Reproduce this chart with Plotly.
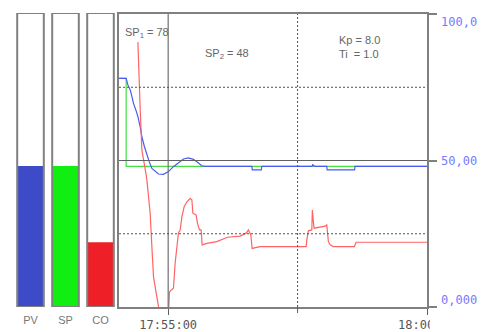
import plotly.graph_objects as go

# ---- data ----
# time in seconds relative to 17:55:00
sp_t = [-57, -48.7, -48.7, 300]
sp_v = [78, 78, 48, 48]

pv_t = [-57, -48.7, -46.7, -44, -42, -40.2, -37.4, -35.1, -32.4, -30.5, -27.5, -24.7, -22,
        -18.9, -15.1, -11.2, -5.4, 0.3, 6.1, 11.9, 17.7, 23.5, 29.3, 33.2, 39, 42.9,
        97, 97.5, 108, 108.5, 166.8, 167.5, 170.3, 183.8, 184.3, 216, 216.6, 300]
pv_v = [78, 78, 75.8, 74.1, 71.8, 69.5, 67.2, 65.0, 61.5, 58.1, 54.7, 51.9, 49.6,
        47.3, 46.2, 45.4, 45.3, 46.2, 47.9, 49.2, 50.5, 50.9, 50.4, 49.6, 48.2, 48,
        48, 46.8, 46.8, 48, 48, 48.6, 48, 48, 46.8, 46.8, 48, 48]

co_t = [-35.1, -34.2, -32.4, -30.5, -27.5, -25.5, -24.7, -22.8, -20.9, -18.9, -17.0, -13.9,
        -11.2, -8, 0.6, 1.5, 6.1, 8.1, 10.1, 11.9, 13.9, 15.9, 18.5, 21.7, 25.5, 27.5,
        28.6, 32.4, 33.9, 36.3, 38.2, 39.4, 44.8, 56.4, 68.7, 83.4, 90.4, 93.0, 95.8,
        97.3, 106.6, 159.9, 160.7, 162.5, 166.5, 167.1, 168.3, 169.1, 181.9, 183.8,
        185.7, 187.7, 191.5, 215.8, 217.8, 300]
co_v = [90.4, 79.9, 67.2, 53.6, 49.1, 45.1, 43.3, 38.2, 32.1, 20.6, 10.3, 4.8,
        0.1, -3, -1, 5.2, 6.4, 15.0, 20.6, 25.3, 26.3, 30.8, 34.2, 35.9, 37.1, 36.5,
        32.0, 31.4, 28.6, 26.3, 26.3, 21.2, 21.7, 22.3, 23.8, 24.2, 25.2, 26.3, 24.6,
        20.0, 20.6, 20.6, 22.9, 26.0, 26.3, 33.1, 29.1, 26.9, 27.6, 28.0,
        22.3, 21.2, 20.6, 20.6, 22.1, 22.1]

bar_names = ["PV", "SP", "CO"]
bar_values = [48, 48, 22]
bar_colors = ["#3d4bc9", "#11ee11", "#ee1f26"]

x_tickvals = [0, 300]
x_ticktext = ["17:55:00", "18:00:00"]
mid_tick = 150
y_labels = ["100,0", "50,00", "0,000"]

W, H = 484, 332
GRAY = "#808080"

fig = go.Figure()

# main chart traces
fig.add_trace(go.Scatter(x=sp_t, y=sp_v, mode="lines", line=dict(color="#44e044", width=1.2),
                         xaxis="x", yaxis="y", showlegend=False))
fig.add_trace(go.Scatter(x=pv_t, y=pv_v, mode="lines", line=dict(color="#4a5af0", width=1.2),
                         xaxis="x", yaxis="y", showlegend=False))
fig.add_trace(go.Scatter(x=co_t, y=co_v, mode="lines", line=dict(color="#ff6464", width=1.2),
                         xaxis="x", yaxis="y", showlegend=False))

# bar gauges
fig.add_trace(go.Bar(x=bar_names, y=bar_values, marker=dict(color=bar_colors, line=dict(width=0)),
                     width=0.76, xaxis="x2", yaxis="y2", showlegend=False))
fig.add_trace(go.Bar(x=bar_names, y=[100, 100, 100],
                     marker=dict(color="rgba(0,0,0,0)", line=dict(color=GRAY, width=2)),
                     width=0.76, xaxis="x2", yaxis="y2", showlegend=False))

y_dom = [1 - 307 / H, 1 - 14 / H]
fig.update_layout(
    width=W, height=H, autosize=False,
    margin=dict(l=0, r=0, t=0, b=0, pad=0, autoexpand=False),
    paper_bgcolor="white", plot_bgcolor="white", barmode="overlay",
    xaxis=dict(domain=[119 / W, 427 / W], range=[-57, 300], showgrid=False, zeroline=False,
               showline=True, mirror=True, linecolor=GRAY, linewidth=2,
               ticks="outside", ticklen=6, tickcolor="#606060", tickwidth=1,
               tickvals=x_tickvals, ticktext=x_ticktext, automargin=False,
               tickfont=dict(family="DejaVu Sans Mono", size=12, color="#555555"),
               anchor="y"),
    yaxis=dict(domain=y_dom, range=[0, 100], side="right", showgrid=False, zeroline=False,
               showline=True, mirror=True, linecolor=GRAY, linewidth=2,
               ticks="outside", ticklen=8, tickcolor=GRAY, tickwidth=2, automargin=False,
               tickvals=[0, 50, 100], showticklabels=False, anchor="x"),
    xaxis2=dict(domain=[13 / W, 118 / W], type="category", range=[-0.5, 2.5],
                showgrid=False, zeroline=False, showline=False, automargin=False,
                ticks="outside", ticklen=3, tickcolor="rgba(0,0,0,0)",
                tickfont=dict(family="Liberation Sans", size=11, color="#777777"),
                anchor="y2"),
    yaxis2=dict(domain=[1 - 307 / H, 1 - 13 / H], range=[0, 100], visible=False,
                automargin=False, anchor="x2"),
)

shapes = [
    dict(type="line", xref="x", yref="y", x0=0, x1=0, y0=0, y1=100,
         line=dict(color="#707070", width=1.2)),
    dict(type="line", xref="x", yref="y", x0=-57, x1=300, y0=50, y1=50,
         line=dict(color="#606060", width=1.2)),
    dict(type="line", xref="x", yref="y", x0=mid_tick, x1=mid_tick, y0=0, y1=100,
         line=dict(color="#505050", width=1, dash="2px,2px")),
    dict(type="line", xref="x", yref="paper", x0=mid_tick, x1=mid_tick,
         y0=1 - 307 / H, y1=1 - 313 / H, line=dict(color="#606060", width=1)),
    dict(type="line", xref="x", yref="y", x0=-57, x1=300, y0=25, y1=25,
         line=dict(color="#505050", width=1, dash="2px,2px")),
    dict(type="line", xref="x", yref="y", x0=-57, x1=300, y0=75, y1=75,
         line=dict(color="#505050", width=1, dash="2px,2px")),
    # canvas clip of the right-most time label
    dict(type="rect", xref="paper", yref="paper", x0=430 / W, x1=1, y0=0, y1=1 - 311 / H,
         fillcolor="white", line=dict(width=0), layer="above"),
]
fig.update_layout(shapes=shapes)

txt_font = dict(family="Liberation Sans", size=11, color="#666666")
ann = [
    dict(text="SP<sub>1</sub> = 78", x=123 / W, y=1 - 33 / H, xanchor="left"),
    dict(text="SP<sub>2</sub> = 48", x=203 / W, y=1 - 54 / H, xanchor="left"),
    dict(text="Kp = 8.0", x=337 / W, y=1 - 40 / H, xanchor="left"),
    dict(text="Ti&nbsp;&nbsp;= 1.0", x=337 / W, y=1 - 54 / H, xanchor="left"),
]
for a in ann:
    fig.add_annotation(xref="paper", yref="paper", showarrow=False, yanchor="middle",
                       font=txt_font, **a)

ylab_pos = [22, 161, 300]
for lab, py in zip(y_labels, ylab_pos):
    fig.add_annotation(text=lab, xref="paper", yref="paper", x=439 / W, y=1 - py / H,
                       xanchor="left", yanchor="middle", showarrow=False,
                       font=dict(family="DejaVu Sans Mono", size=12, color="#7878ff"))

fig.write_html("out.html", config={"responsive": False, "displayModeBar": False},
               post_script="document.body.style.margin='0';document.body.style.overflow='hidden';")
